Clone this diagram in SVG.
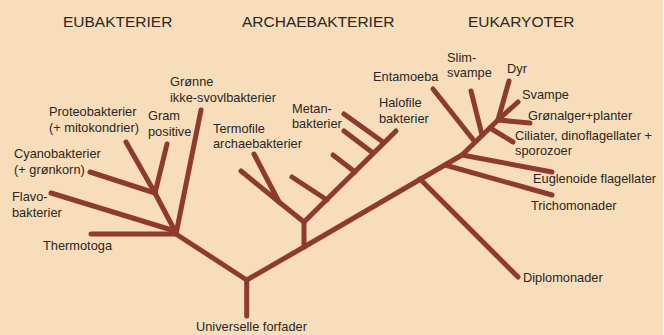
<svg xmlns="http://www.w3.org/2000/svg" width="664" height="335" viewBox="0 0 664 335">
<style>
.bg{fill:#F7DDB9}
.c line,.c polyline{stroke:#8E3A2E;stroke-width:5;stroke-linecap:round;stroke-linejoin:round;fill:none}
text{font-family:"Liberation Sans",Arial,sans-serif;fill:#2B2724}
.h{font-size:15.5px}
.l{font-size:12.8px}
</style>
<rect class="bg" x="0" y="0" width="664" height="335"/>
<rect x="663" y="0" width="1" height="335" fill="#FBF1E4"/>
<g id="headings">
<text class="h" x="63" y="27">EUBAKTERIER</text>
<text class="h" x="242" y="27">ARCHAEBAKTERIER</text>
<text class="h" x="468" y="27">EUKARYOTER</text>
</g>
<g class="c" id="connectors">
<line x1="246.7" y1="316" x2="246.7" y2="280"/>
<line x1="246.7" y1="280" x2="176" y2="234"/>
<line x1="176" y1="234" x2="91" y2="234"/>
<line x1="51" y1="193" x2="175" y2="231"/>
<line x1="176" y1="234" x2="201" y2="110"/>
<line x1="155" y1="193" x2="175" y2="231"/>
<line x1="90" y1="172" x2="155" y2="193"/>
<line x1="126" y1="142" x2="155" y2="193"/>
<line x1="167" y1="144" x2="155" y2="193"/>
<line x1="304" y1="247" x2="304" y2="222"/>
<line x1="304" y1="222" x2="279" y2="202"/>
<line x1="279" y1="202" x2="241" y2="171"/>
<line x1="279" y1="202" x2="254" y2="154"/>
<line x1="304" y1="222" x2="396" y2="131"/>
<line x1="327" y1="200" x2="292" y2="177"/>
<line x1="355" y1="172" x2="333" y2="155"/>
<line x1="373" y1="153" x2="344" y2="131"/>
<line x1="383" y1="142" x2="344" y2="114"/>
<polyline points="246.7,280 304,247 462,155 498,120"/>
<line x1="420" y1="179" x2="518" y2="277"/>
<line x1="445" y1="165" x2="552" y2="195"/>
<line x1="462" y1="155" x2="552" y2="172"/>
<line x1="475" y1="142" x2="433" y2="89"/>
<line x1="482" y1="135" x2="471" y2="91"/>
<line x1="490" y1="128" x2="513" y2="142"/>
<line x1="498" y1="120" x2="509" y2="81"/>
<line x1="498" y1="120" x2="518" y2="102"/>
<line x1="498" y1="120" x2="530" y2="123"/>
</g>
<g id="n-universelle"><text class="l" x="196" y="331">Universelle forfader</text></g>
<g id="n-thermotoga"><text class="l" x="43" y="250">Thermotoga</text></g>
<g id="n-flavo"><text class="l" x="12" y="201">Flavo-</text><text class="l" x="12" y="217">bakterier</text></g>
<g id="n-cyano"><text class="l" x="14" y="158">Cyanobakterier</text><text class="l" x="14" y="174">(+ grønkorn)</text></g>
<g id="n-proteo"><text class="l" x="49" y="116">Proteobakterier</text><text class="l" x="49" y="132">(+ mitokondrier)</text></g>
<g id="n-gram"><text class="l" x="148" y="120">Gram</text><text class="l" x="148" y="136">positive</text></g>
<g id="n-gronne"><text class="l" x="170" y="86">Grønne</text><text class="l" x="170" y="102">ikke-svovlbakterier</text></g>
<g id="n-termofile"><text class="l" x="213" y="133">Termofile</text><text class="l" x="213" y="148">archaebakterier</text></g>
<g id="n-metan"><text class="l" x="292" y="113">Metan-</text><text class="l" x="292" y="128">bakterier</text></g>
<g id="n-halofile"><text class="l" x="379" y="107">Halofile</text><text class="l" x="379" y="123">bakterier</text></g>
<g id="n-entamoeba"><text class="l" x="373" y="81">Entamoeba</text></g>
<g id="n-slim"><text class="l" x="447" y="62">Slim-</text><text class="l" x="447" y="77">svampe</text></g>
<g id="n-dyr"><text class="l" x="507" y="73">Dyr</text></g>
<g id="n-svampe"><text class="l" x="522" y="99">Svampe</text></g>
<g id="n-gronalger"><text class="l" x="528" y="120">Grønalger+planter</text></g>
<g id="n-ciliater"><text class="l" x="515" y="140">Ciliater, dinoflagellater +</text><text class="l" x="515" y="155">sporozoer</text></g>
<g id="n-euglenoide"><text class="l" x="533" y="183">Euglenoide flagellater</text></g>
<g id="n-trichomonader"><text class="l" x="531" y="210">Trichomonader</text></g>
<g id="n-diplomonader"><text class="l" x="523" y="282">Diplomonader</text></g>
</svg>
